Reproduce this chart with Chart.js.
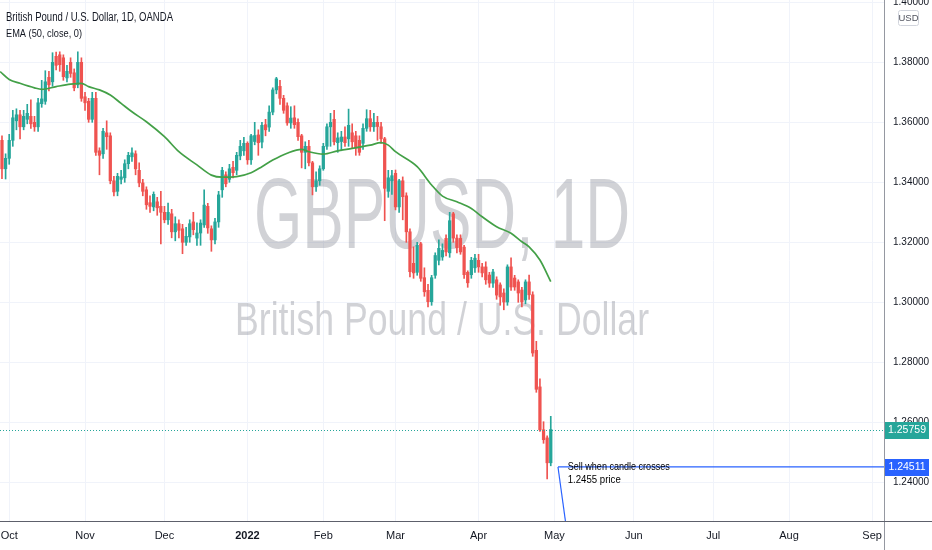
<!DOCTYPE html>
<html>
<head>
<meta charset="utf-8">
<script src="https://cdn.jsdelivr.net/npm/chart.js@4.4.1/dist/chart.umd.min.js"></script>
<style>
  html, body { margin: 0; padding: 0; background: #fff; }
  #wrap { width: 932px; height: 550px; position: relative; }
</style>
</head>
<body>
<div id="wrap"><canvas id="chart" width="932" height="550"></canvas></div>
<script>
// GBPUSD daily, OANDA. bar 0 = 1 Oct 2021, one bar per trading day
const firstBar = -2;
const opens = [
  1.3540, 1.3445, 1.3480, 1.3540, 1.3605, 1.3625, 1.3585, 1.3610, 1.3620, 1.3600,
  1.3585, 1.3662, 1.3670, 1.3750, 1.3735, 1.3820, 1.3825, 1.3815, 1.3748, 1.3800,
  1.3765, 1.3725, 1.3800, 1.3685, 1.3670, 1.3610, 1.3680, 1.3505, 1.3495, 1.3565,
  1.3555, 1.3405, 1.3370, 1.3410, 1.3415, 1.3462, 1.3485, 1.3495, 1.3440, 1.3398,
  1.3375, 1.3332, 1.3318, 1.3335, 1.3320, 1.3300, 1.3275, 1.3295, 1.3235, 1.3262,
  1.3245, 1.3200, 1.3218, 1.3268, 1.3214, 1.3231, 1.3258, 1.3320, 1.3245, 1.3208,
  1.3268, 1.3375, 1.3425, 1.3410, 1.3450, 1.3440, 1.3488, 1.3505, 1.3530, 1.3475,
  1.3536, 1.3558, 1.3534, 1.3592, 1.3584, 1.3634, 1.3708, 1.3720, 1.3680, 1.3655,
  1.3598, 1.3615, 1.3600, 1.3555, 1.3500, 1.3520, 1.3465, 1.3385, 1.3405, 1.3445,
  1.3520, 1.3585, 1.3610, 1.3532, 1.3536, 1.3551, 1.3545, 1.3565, 1.3555, 1.3540,
  1.3530, 1.3580, 1.3612, 1.3585, 1.3600, 1.3585, 1.3545, 1.3370, 1.3405, 1.3430,
  1.3318, 1.3405, 1.3355, 1.3235, 1.3130, 1.3100, 1.3195, 1.3082, 1.3040, 1.3002,
  1.3090, 1.3140, 1.3151, 1.3213, 1.3165, 1.3295, 1.3214, 1.3213, 1.3184, 1.3100,
  1.3092, 1.3115, 1.3140, 1.3118, 1.3118, 1.3091, 1.3064, 1.3075, 1.3058, 1.3031,
  1.3001, 1.3118, 1.3081, 1.3068, 1.3041, 1.3008, 1.3068, 1.3025, 1.2840, 1.2718,
  1.2575, 1.2548, 1.2465
];
const highs = [
  1.3555, 1.3495, 1.3560, 1.3640, 1.3645, 1.3640, 1.3640, 1.3660, 1.3675, 1.3620,
  1.3680, 1.3740, 1.3772, 1.3770, 1.3832, 1.3834, 1.3835, 1.3825, 1.3790, 1.3815,
  1.3778, 1.3835, 1.3815, 1.3700, 1.3680, 1.3700, 1.3700, 1.3515, 1.3580, 1.3605,
  1.3565, 1.3420, 1.3430, 1.3440, 1.3475, 1.3500, 1.3515, 1.3505, 1.3465, 1.3410,
  1.3385, 1.3355, 1.3368, 1.3350, 1.3370, 1.3320, 1.3331, 1.3310, 1.3285, 1.3275,
  1.3260, 1.3250, 1.3275, 1.3300, 1.3265, 1.3275, 1.3375, 1.3330, 1.3255, 1.3280,
  1.3370, 1.3450, 1.3435, 1.3460, 1.3470, 1.3500, 1.3540, 1.3550, 1.3535, 1.3560,
  1.3600, 1.3575, 1.3600, 1.3610, 1.3655, 1.3715, 1.3750, 1.3740, 1.3690, 1.3665,
  1.3652, 1.3655, 1.3612, 1.3560, 1.3535, 1.3540, 1.3470, 1.3435, 1.3455, 1.3530,
  1.3595, 1.3630, 1.3640, 1.3565, 1.3570, 1.3585, 1.3644, 1.3595, 1.3570, 1.3555,
  1.3595, 1.3642, 1.3640, 1.3630, 1.3620, 1.3600, 1.3550, 1.3440, 1.3440, 1.3441,
  1.3410, 1.3418, 1.3365, 1.3245, 1.3185, 1.3200, 1.3200, 1.3115, 1.3060, 1.3090,
  1.3165, 1.3208, 1.3195, 1.3225, 1.3300, 1.3300, 1.3225, 1.3225, 1.3190, 1.3105,
  1.3150, 1.3160, 1.3160, 1.3130, 1.3135, 1.3100, 1.3110, 1.3085, 1.3065, 1.3045,
  1.3125, 1.3148, 1.3090, 1.3075, 1.3050, 1.3075, 1.3091, 1.3035, 1.2870, 1.2745,
  1.2602, 1.2555, 1.2620
];
const lows = [
  1.3412, 1.3411, 1.3460, 1.3520, 1.3575, 1.3545, 1.3575, 1.3595, 1.3580, 1.3570,
  1.3570, 1.3650, 1.3660, 1.3705, 1.3720, 1.3775, 1.3770, 1.3740, 1.3735, 1.3750,
  1.3705, 1.3715, 1.3670, 1.3640, 1.3600, 1.3600, 1.3490, 1.3425, 1.3480, 1.3510,
  1.3395, 1.3355, 1.3355, 1.3395, 1.3400, 1.3445, 1.3470, 1.3425, 1.3385, 1.3355,
  1.3310, 1.3300, 1.3305, 1.3290, 1.3195, 1.3265, 1.3260, 1.3215, 1.3205, 1.3215,
  1.3162, 1.3190, 1.3200, 1.3225, 1.3190, 1.3190, 1.3250, 1.3230, 1.3170, 1.3195,
  1.3250, 1.3350, 1.3385, 1.3400, 1.3415, 1.3425, 1.3475, 1.3490, 1.3460, 1.3460,
  1.3525, 1.3490, 1.3515, 1.3555, 1.3570, 1.3625, 1.3695, 1.3660, 1.3630, 1.3590,
  1.3580, 1.3580, 1.3540, 1.3448, 1.3445, 1.3455, 1.3358, 1.3370, 1.3390, 1.3440,
  1.3510, 1.3520, 1.3525, 1.3500, 1.3505, 1.3520, 1.3520, 1.3515, 1.3490, 1.3490,
  1.3510, 1.3570, 1.3570, 1.3570, 1.3540, 1.3530, 1.3272, 1.3350, 1.3360, 1.3308,
  1.3300, 1.3275, 1.3200, 1.3085, 1.3080, 1.3090, 1.3070, 1.3020, 1.2985, 1.2990,
  1.3080, 1.3125, 1.3140, 1.3155, 1.3150, 1.3200, 1.3165, 1.3160, 1.3080, 1.3050,
  1.3080, 1.3100, 1.3100, 1.3085, 1.3060, 1.3050, 1.3050, 1.3010, 1.2990, 1.2975,
  1.2990, 1.3040, 1.3040, 1.3000, 1.2985, 1.2995, 1.3010, 1.2820, 1.2700, 1.2570,
  1.2530, 1.2411, 1.2455
];
const closes = [
  1.3445, 1.3480, 1.3540, 1.3615, 1.3625, 1.3585, 1.3620, 1.3630, 1.3595, 1.3585,
  1.3665, 1.3678, 1.3735, 1.3725, 1.3800, 1.3790, 1.3792, 1.3752, 1.3770, 1.3763,
  1.3715, 1.3800, 1.3680, 1.3665, 1.3610, 1.3680, 1.3500, 1.3490, 1.3570, 1.3552,
  1.3405, 1.3368, 1.3420, 1.3418, 1.3462, 1.3490, 1.3498, 1.3445, 1.3398, 1.3370,
  1.3325, 1.3320, 1.3360, 1.3315, 1.3300, 1.3275, 1.3300, 1.3235, 1.3262, 1.3240,
  1.3200, 1.3220, 1.3262, 1.3242, 1.3231, 1.3264, 1.3324, 1.3248, 1.3208, 1.3268,
  1.3358, 1.3440, 1.3395, 1.3445, 1.3432, 1.3490, 1.3520, 1.3530, 1.3475, 1.3555,
  1.3556, 1.3532, 1.3590, 1.3575, 1.3634, 1.3708, 1.3745, 1.3680, 1.3640, 1.3598,
  1.3614, 1.3592, 1.3552, 1.3500, 1.3520, 1.3465, 1.3385, 1.3405, 1.3445, 1.3520,
  1.3585, 1.3600, 1.3535, 1.3548, 1.3551, 1.3532, 1.3590, 1.3535, 1.3515, 1.3500,
  1.3580, 1.3612, 1.3585, 1.3600, 1.3586, 1.3545, 1.3380, 1.3415, 1.3422, 1.3318,
  1.3405, 1.3352, 1.3235, 1.3102, 1.3098, 1.3190, 1.3080, 1.3035, 1.3002, 1.3082,
  1.3156, 1.3180, 1.3173, 1.3168, 1.3272, 1.3214, 1.3182, 1.3168, 1.3092, 1.3065,
  1.3140, 1.3147, 1.3118, 1.3098, 1.3075, 1.3064, 1.3101, 1.3024, 1.3018, 1.3001,
  1.3118, 1.3051, 1.3051, 1.3031, 1.3001, 1.3068, 1.3025, 1.2831, 1.2710, 1.2575,
  1.2542, 1.2465, 1.25759
];

// EMA(50), at these bars
const emaBars = [-2.5, 0, 3, 7, 9, 13, 17, 20, 22, 25, 28, 31, 34, 38, 43, 47, 52, 56, 59, 63, 67, 70, 73,
  77, 81, 83, 87, 91, 95, 100, 103, 105, 107, 113, 117, 120, 124, 128, 131, 135, 139, 142, 144, 147, 150];
const emaVals = [1.3769, 1.3743, 1.3730, 1.3715, 1.3710, 1.3719, 1.3727, 1.3730, 1.3719, 1.3708, 1.3691,
  1.3663, 1.3635, 1.3602, 1.3552, 1.3502, 1.3458, 1.3424, 1.3417, 1.3419, 1.3432, 1.3452, 1.3474, 1.3497,
  1.3510, 1.3502, 1.3494, 1.3505, 1.3513, 1.3524, 1.3532, 1.3524, 1.3502, 1.3452, 1.3391, 1.3354, 1.3335,
  1.3313, 1.3285, 1.3252, 1.3230, 1.3202, 1.3185, 1.3141, 1.3069];

// month ticks (bar of first trading day)
const monthBars = [0, 21, 43, 66, 87, 107, 130, 151, 173, 195, 216, 239];
const monthLabels = ['Oct', 'Nov', 'Dec', '2022', 'Feb', 'Mar', 'Apr', 'May', 'Jun', 'Jul', 'Aug', 'Sep'];
const priceTicks = [1.24, 1.26, 1.28, 1.30, 1.32, 1.34, 1.36, 1.38, 1.40];

// drawing: horizontal ray + down line from the sell level
const sellLevel = 1.24511;
const sellFrom = 152.0;
const trendTo = [154.3, 1.2250];
const noteAt = [154.7, 1.2450];
const noteLines = ['Sell when candle crosses', '1.2455 price'];

const xMin = -2.55, xMax = 242.3;
const yMin = 1.2271, yMax = 1.40077;

const UP = '#26a69a', DOWN = '#ef5350', BLUE = '#2962ff', GRID = '#f0f3fa', TEXT = '#131722';

function hasFont(name) {
  const c = document.createElement('canvas').getContext('2d');
  const s = 'British Pound 1.38000 WMmil';
  c.font = '40px monospace';
  const a = c.measureText(s).width;
  c.font = '40px "' + name + '", monospace';
  return c.measureText(s).width !== a;
}
const FONT = hasFont('Liberation Sans Narrow') ? '"Liberation Sans Narrow", "Liberation Sans", sans-serif'
  : '"Liberation Sans", Arial, sans-serif';
const WM_FONT = '"Liberation Sans", Arial, sans-serif';

Chart.defaults.font.family = FONT;
Chart.defaults.color = TEXT;

const barColor = ctx => closes[ctx.dataIndex] >= opens[ctx.dataIndex] ? UP : DOWN;
const barX = i => firstBar + i;

const decor = {
  id: 'decor',
  beforeDatasetsDraw(chart) {
    const {ctx, chartArea: a} = chart;
    const cx = (a.left + a.right) / 2;
    ctx.save();
    ctx.fillStyle = 'rgba(120,123,134,0.34)';
    ctx.textAlign = 'center';
    ctx.textBaseline = 'alphabetic';
    ctx.font = '100px ' + WM_FONT;
    ctx.fillText('GBPUSD, 1D', cx, 248, 376);
    ctx.font = '46px ' + WM_FONT;
    ctx.fillText('British Pound / U.S. Dollar', cx, 335, 414);
    ctx.restore();
  },
  afterDatasetsDraw(chart) {
    const {ctx, chartArea: a, scales: {x, y}} = chart;
    const last = closes[closes.length - 1];
    const py = Math.round(y.getPixelForValue(last)) + 0.5;
    ctx.save();
    ctx.strokeStyle = UP;
    ctx.lineWidth = 1;
    ctx.setLineDash([1, 2]);
    ctx.beginPath();
    ctx.moveTo(a.left, py);
    ctx.lineTo(a.right, py);
    ctx.stroke();
    ctx.setLineDash([]);
    // note text
    ctx.fillStyle = '#000';
    ctx.font = '11px ' + FONT;
    ctx.textAlign = 'left';
    ctx.textBaseline = 'middle';
    const nx = x.getPixelForValue(noteAt[0]);
    const ny = y.getPixelForValue(noteAt[1]);
    ctx.fillText(noteLines[0], nx, ny, 102);
    ctx.fillText(noteLines[1], nx, ny + 13, 53);
    ctx.restore();
  },
  afterDraw(chart) {
    const {ctx, chartArea: a, scales: {y}} = chart;
    ctx.save();
    // axis borders
    ctx.lineWidth = 1;
    ctx.strokeStyle = '#9598a1';
    ctx.beginPath();
    ctx.moveTo(a.right + 0.5, 0);
    ctx.lineTo(a.right + 0.5, chart.height);
    ctx.stroke();
    ctx.strokeStyle = '#5d606b';
    ctx.beginPath();
    ctx.moveTo(0, a.bottom + 0.5);
    ctx.lineTo(chart.width, a.bottom + 0.5);
    ctx.stroke();

    // header
    ctx.fillStyle = TEXT;
    ctx.textAlign = 'left';
    ctx.textBaseline = 'alphabetic';
    ctx.font = '12px ' + FONT;
    ctx.fillText('British Pound / U.S. Dollar, 1D, OANDA', 6, 21, 167);
    ctx.font = '11.5px ' + FONT;
    ctx.fillText('EMA (50, close, 0)', 6, 37, 76);

    // currency box
    ctx.strokeStyle = '#d1d4dc';
    ctx.beginPath();
    ctx.roundRect(898.5, 10.5, 20, 15, 2);
    ctx.stroke();
    ctx.fillStyle = '#50535e';
    ctx.font = '9.5px ' + FONT;
    ctx.textAlign = 'center';
    ctx.textBaseline = 'middle';
    ctx.fillText('USD', 908.5, 18.5);

    // price labels
    const tags = [[closes[closes.length - 1], UP], [sellLevel, BLUE]];
    ctx.font = '10.5px ' + FONT;
    tags.forEach(([v, col]) => {
      const py = y.getPixelForValue(v);
      ctx.fillStyle = col;
      ctx.fillRect(a.right + 1, Math.round(py) - 8, 44, 17);
      ctx.fillStyle = '#fff';
      ctx.fillText(v.toFixed(5), a.right + 23, Math.round(py) + 0.5);
    });
    ctx.restore();
  }
};

new Chart(document.getElementById('chart'), {
  type: 'bar',
  data: {
    datasets: [
      {
        type: 'line',
        label: 'EMA',
        data: emaBars.map((b, i) => ({x: b, y: emaVals[i]})),
        borderColor: '#43a047',
        borderWidth: 1.7,
        pointRadius: 0,
        cubicInterpolationMode: 'monotone',
        order: 0
      },
      {
        type: 'line',
        label: 'ray',
        data: [{x: sellFrom, y: sellLevel}, {x: xMax, y: sellLevel}],
        borderColor: BLUE,
        borderWidth: 1.2,
        pointRadius: 0,
        order: 0
      },
      {
        type: 'line',
        label: 'trend',
        data: [{x: sellFrom, y: sellLevel}, {x: trendTo[0], y: trendTo[1]}],
        borderColor: BLUE,
        borderWidth: 1.2,
        pointRadius: 0,
        order: 0
      },
      {
        label: 'body',
        data: opens.map((o, i) => ({x: barX(i), y: [o, closes[i]]})),
        backgroundColor: barColor,
        barThickness: 2.6,
        minBarLength: 1,
        grouped: false,
        order: 1
      },
      {
        label: 'wick',
        data: lows.map((l, i) => ({x: barX(i), y: [l, highs[i]]})),
        backgroundColor: barColor,
        barThickness: 1,
        grouped: false,
        order: 2
      }
    ]
  },
  options: {
    responsive: false,
    devicePixelRatio: 1,
    animation: false,
    layout: {padding: 0},
    plugins: {legend: {display: false}, tooltip: {enabled: false}},
    scales: {
      x: {
        type: 'linear',
        min: xMin,
        max: xMax,
        offset: false,
        afterBuildTicks: s => { s.ticks = monthBars.map(v => ({value: v})); },
        afterFit: s => { s.height = 29; s.paddingLeft = 0; s.paddingRight = 0; },
        ticks: {
          autoSkip: false,
          maxRotation: 0,
          padding: 8,
          color: TEXT,
          font: ctx => ({size: 11, weight: monthLabels[ctx.index] === '2022' ? 'bold' : 'normal'}),
          callback: (v, i) => monthLabels[i]
        },
        grid: {color: GRID, drawTicks: false, offset: false},
        border: {display: false}
      },
      y: {
        position: 'right',
        min: yMin,
        max: yMax,
        afterBuildTicks: s => { s.ticks = priceTicks.map(v => ({value: v})); },
        afterFit: s => { s.width = 48; s.paddingTop = 0; s.paddingBottom = 0; },
        ticks: {
          padding: 9,
          color: TEXT,
          font: {size: 10},
          callback: v => v.toFixed(5)
        },
        grid: {color: GRID, drawTicks: false},
        border: {display: false}
      }
    }
  },
  plugins: [decor]
});
</script>
</body>
</html>
